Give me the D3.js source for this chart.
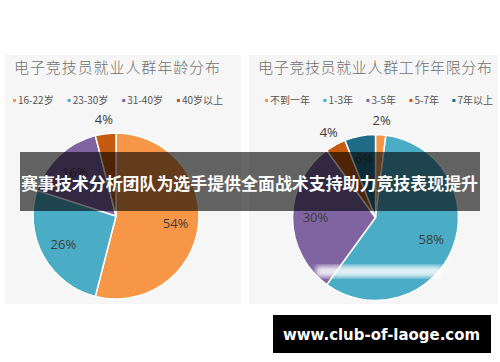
<!DOCTYPE html>
<html>
<head>
<meta charset="utf-8">
<script src="https://cdn.jsdelivr.net/npm/d3@7"></script>
<style>
  html, body { margin: 0; padding: 0; background: #fff; }
  svg { display: block; }
  .title { font-family: "Noto Sans CJK SC", sans-serif; font-size: 15px; font-weight: 300; fill: #707070; }
  .legend text { font-family: "Noto Sans CJK SC", sans-serif; font-size: 10px; fill: #555; }
  .pct { font-family: "Open Sans", sans-serif; font-size: 13px; fill: #3c3c3c; }
</style>
</head>
<body>
<script>
// Chart data
const ageCategories = ['16-22岁', '23-30岁', '31-40岁', '40岁以上'];
const ageValues = [54, 26, 16, 4];
const ageTitle = '电子竞技员就业人群年龄分布';

const yearCategories = ['不到一年', '1-3年', '3-5年', '5-7年', '7年以上'];
const yearValues = [2, 58, 30, 4, 6];
const yearTitle = '电子竞技员就业人群工作年限分布';

const ageColors = ['#f79646', '#4bacc6', '#8064a2', '#c55a11'];
const yearColors = ['#f79646', '#4bacc6', '#8064a2', '#c55a11', '#1f6b88'];

const bannerText = '赛事技术分析团队为选手提供全面战术支持助力竞技表现提升';
const siteText = 'www.club-of-laoge.com';

const width = 500, height = 362;

const svg = d3.select('body').append('svg')
  .attr('width', width)
  .attr('height', height);

// blur used for the washed-out strip on the right pie
svg.append('defs').append('filter')
  .attr('id', 'soft')
  .append('feGaussianBlur')
  .attr('stdDeviation', 2.5);

function drawPanel(opts) {
  const g = svg.append('g');

  g.append('rect')
    .attr('x', opts.x).attr('y', 55)
    .attr('width', opts.w).attr('height', 249)
    .attr('fill', '#f6f6f6');

  g.append('text')
    .attr('class', 'title')
    .attr('x', opts.titleX).attr('y', 73)
    .attr('textLength', opts.titleW)
    .attr('lengthAdjust', 'spacing')
    .text(opts.title);

  // legend: lay items out in a row so they span legendW
  const lg = g.append('g').attr('class', 'legend');
  const items = opts.categories.map((c, i) => {
    const it = lg.append('g');
    it.append('rect')
      .attr('width', 3).attr('height', 3)
      .attr('y', -5)
      .attr('fill', opts.colors[i]);
    const t = it.append('text').attr('x', 5).attr('y', 0).text(c);
    return { it, w: 5 + t.node().getComputedTextLength() };
  });
  const total = d3.sum(items, d => d.w);
  const gap = (opts.legendW - total) / (items.length - 1);
  let cx = opts.legendX;
  items.forEach(d => {
    d.it.attr('transform', `translate(${cx},104)`);
    cx += d.w + gap;
  });

  // pie
  const r = 83;
  const pie = d3.pie().sort(null).value(d => d);
  const arcs = pie(opts.values);
  const arc = d3.arc().innerRadius(0).outerRadius(r);
  const inner = d3.arc().innerRadius(60).outerRadius(60);
  const outer = d3.arc().innerRadius(97).outerRadius(97);

  const pg = g.append('g').attr('transform', `translate(${opts.cx},${opts.cy})`);
  pg.selectAll('path')
    .data(arcs)
    .enter().append('path')
    .attr('d', arc)
    .attr('fill', (d, i) => opts.colors[i])
    .attr('stroke', '#fff')
    .attr('stroke-width', 1.5);

  pg.selectAll('text.pct')
    .data(arcs)
    .enter().append('text')
    .attr('class', 'pct')
    .attr('text-anchor', 'middle')
    .attr('dy', '0.35em')
    .attr('transform', d => {
      const p = (d.value < 5 ? outer : inner).centroid(d);
      return `translate(${p[0]},${p[1]})`;
    })
    .text(d => d.value + '%');

  return g;
}

drawPanel({
  x: 5, w: 236, cx: 116, cy: 216,
  title: ageTitle, titleX: 14, titleW: 206,
  categories: ageCategories, values: ageValues, colors: ageColors,
  legendX: 13, legendW: 210
});

drawPanel({
  x: 249, w: 249, cx: 375.5, cy: 217.5,
  title: yearTitle, titleX: 258, titleW: 234,
  categories: yearCategories, values: yearValues, colors: yearColors,
  legendX: 265, legendW: 228
});

// washed-out strip across the lower right pie
svg.append('rect')
  .attr('x', 316).attr('y', 266)
  .attr('width', 126).attr('height', 11)
  .attr('fill', '#fff')
  .attr('opacity', 0.85)
  .attr('filter', 'url(#soft)');

// dark banner across the middle
svg.append('rect')
  .attr('x', 20).attr('y', 152)
  .attr('width', 460).attr('height', 59)
  .attr('fill', '#000')
  .attr('opacity', 0.6);

svg.append('text')
  .attr('x', 21).attr('y', 190)
  .attr('textLength', 457)
  .attr('lengthAdjust', 'spacingAndGlyphs')
  .style('font-family', '"Noto Sans CJK SC", sans-serif')
  .style('font-size', '17px')
  .style('font-weight', 'bold')
  .attr('fill', '#fff')
  .text(bannerText);

// site box bottom right
svg.append('rect')
  .attr('x', 273).attr('y', 315)
  .attr('width', 218).attr('height', 38)
  .attr('fill', '#000');

svg.append('text')
  .attr('x', 283).attr('y', 340)
  .attr('textLength', 197)
  .attr('lengthAdjust', 'spacingAndGlyphs')
  .style('font-family', '"DejaVu Sans", sans-serif')
  .style('font-size', '16px')
  .style('font-weight', 'bold')
  .attr('fill', '#fff')
  .text(siteText);
</script>
</body>
</html>
